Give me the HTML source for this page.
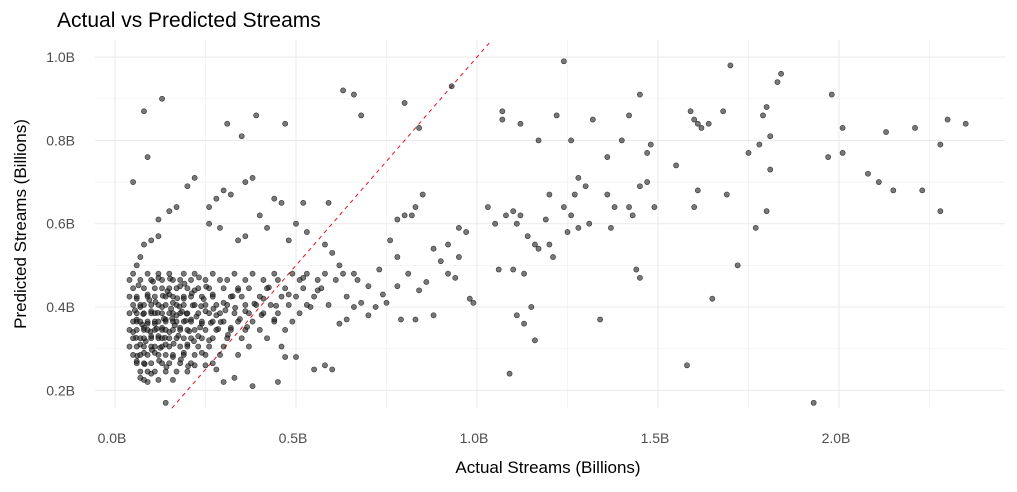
<!DOCTYPE html>
<html><head><meta charset="utf-8"><style>
body{margin:0;background:#fff;font-family:"Liberation Sans",sans-serif}
svg text{font-family:"Liberation Sans",sans-serif}
</style></head><body>
<svg id="chart" width="1017" height="487" xmlns="http://www.w3.org/2000/svg">
<text x="57" y="27" font-size="21" fill="#000">Actual vs Predicted Streams</text>
<text x="548" y="473" font-size="17" text-anchor="middle" fill="#000">Actual Streams (Billions)</text>
<text transform="translate(26,224) rotate(-90)" font-size="17" text-anchor="middle" fill="#000">Predicted Streams (Billions)</text>
<g id="grid"></g><g id="ticks"></g><g id="line"></g><g id="pts"></g>
</svg>
<script>
const xTicks=[0,0.5,1.0,1.5,2.0];
const xTickLabels=["0.0B","0.5B","1.0B","1.5B","2.0B"];
const yTicks=[0.2,0.4,0.6,0.8,1.0];
const yTickLabels=["0.2B","0.4B","0.6B","0.8B","1.0B"];
const outliers=[[0.05,0.70],[0.08,0.87],[0.09,0.76],[0.13,0.90],[0.31,0.84],[0.35,0.81],[0.39,0.86],[0.47,0.84],[0.63,0.92],[0.66,0.91],[0.68,0.86],[0.80,0.89],[0.84,0.83],[0.93,0.93],[1.07,0.87],[1.07,0.85],[1.12,0.84],[1.17,0.80],[1.22,0.86],[1.24,0.99],[1.26,0.80],[1.32,0.85],[1.36,0.76],[1.40,0.80],[1.42,0.86],[1.45,0.91],[1.47,0.77],[1.48,0.79],[1.55,0.74],[1.59,0.87],[1.60,0.85],[1.61,0.84],[1.62,0.83],[1.64,0.84],[1.68,0.87],[1.70,0.98],[1.75,0.77],[1.78,0.79],[1.79,0.86],[1.80,0.88],[1.81,0.81],[1.83,0.94],[1.84,0.96],[1.97,0.76],[1.98,0.91],[2.01,0.83],[2.01,0.77],[2.13,0.82],[2.21,0.83],[2.28,0.79],[2.30,0.85],[2.35,0.84]];
const midRight=[[1.20,0.67],[1.24,0.64],[1.26,0.62],[1.27,0.67],[1.28,0.71],[1.30,0.69],[1.31,0.60],[1.38,0.64],[1.36,0.67],[1.42,0.64],[1.43,0.62],[1.45,0.69],[1.47,0.70],[1.49,0.64],[1.37,0.59],[1.28,0.59],[1.25,0.58],[1.19,0.61],[1.20,0.55],[1.16,0.55],[1.17,0.54],[1.14,0.57],[1.12,0.62],[1.10,0.63],[1.11,0.60],[1.08,0.62],[1.05,0.60],[1.03,0.64],[1.21,0.52],[1.10,0.49],[1.13,0.48],[1.06,0.49],[1.15,0.40],[1.11,0.38],[1.13,0.36],[1.16,0.32],[1.09,0.24],[1.34,0.37],[1.44,0.49],[1.45,0.47],[1.58,0.26],[1.60,0.64],[1.61,0.68],[1.65,0.42],[1.69,0.67],[1.72,0.50],[1.77,0.59],[1.80,0.63],[1.81,0.73],[1.93,0.17],[2.08,0.72],[2.11,0.70],[2.15,0.68],[2.23,0.68],[2.28,0.63]];
const midLeft=[[0.85,0.67],[0.83,0.64],[0.82,0.62],[0.80,0.62],[0.78,0.61],[0.76,0.56],[0.78,0.52],[0.88,0.54],[0.92,0.55],[0.95,0.59],[0.97,0.58],[0.90,0.51],[0.86,0.46],[0.94,0.47],[0.98,0.42],[0.99,0.41],[0.88,0.38],[0.83,0.37],[0.79,0.37],[0.72,0.40],[0.70,0.45],[0.66,0.48],[0.62,0.50],[0.60,0.53],[0.58,0.55],[0.53,0.58],[0.59,0.65],[0.52,0.65],[0.46,0.65],[0.44,0.66],[0.50,0.60],[0.56,0.44],[0.54,0.40],[0.62,0.36],[0.64,0.37],[0.66,0.40],[0.68,0.41],[0.70,0.38],[0.74,0.43],[0.73,0.49],[0.75,0.41],[0.78,0.45],[0.81,0.48],[0.84,0.44],[0.92,0.48],[0.95,0.52],[0.60,0.25],[0.58,0.26],[0.55,0.25],[0.50,0.28],[0.47,0.28],[0.45,0.22],[0.38,0.21],[0.33,0.23],[0.30,0.22],[0.28,0.25],[0.25,0.26],[0.22,0.26],[0.14,0.17],[0.42,0.59],[0.40,0.62],[0.36,0.70],[0.38,0.71],[0.32,0.67],[0.30,0.68],[0.28,0.66],[0.26,0.64],[0.22,0.71],[0.20,0.69],[0.17,0.64],[0.15,0.63],[0.12,0.61],[0.12,0.57],[0.10,0.56],[0.08,0.55],[0.06,0.50],[0.07,0.52],[0.26,0.60],[0.29,0.59],[0.34,0.56],[0.36,0.57],[0.48,0.56]];
const clusterY=[0.48,0.465,0.445,0.425,0.405,0.385,0.365,0.345,0.325,0.305,0.285,0.265,0.245,0.225];
const clusterX=[
[0.05,0.09,0.12,0.15,0.19,0.22,0.27,0.33,0.38,0.44,0.49,0.53,0.58,0.63],
[0.04,0.07,0.10,0.13,0.16,0.18,0.21,0.25,0.29,0.31,0.36,0.41,0.45,0.51,0.56,0.61,0.67],
[0.05,0.08,0.11,0.13,0.15,0.17,0.20,0.23,0.26,0.30,0.34,0.37,0.42,0.47,0.52,0.57],
[0.04,0.06,0.09,0.11,0.14,0.16,0.19,0.21,0.24,0.27,0.32,0.35,0.40,0.46,0.50,0.55,0.64],
[0.05,0.07,0.08,0.10,0.12,0.14,0.17,0.19,0.22,0.25,0.28,0.31,0.36,0.39,0.43,0.48,0.53,0.59],
[0.04,0.06,0.08,0.10,0.11,0.13,0.15,0.16,0.18,0.20,0.23,0.26,0.29,0.33,0.37,0.41,0.45,0.51],
[0.05,0.06,0.07,0.09,0.11,0.12,0.14,0.16,0.17,0.19,0.21,0.24,0.27,0.30,0.34,0.38,0.44,0.49],
[0.04,0.06,0.08,0.09,0.11,0.13,0.14,0.16,0.18,0.20,0.22,0.25,0.28,0.32,0.36,0.40,0.47],
[0.05,0.07,0.08,0.10,0.12,0.13,0.15,0.17,0.19,0.21,0.24,0.27,0.31,0.35,0.42],
[0.04,0.06,0.08,0.10,0.11,0.13,0.15,0.18,0.20,0.23,0.26,0.30,0.37,0.46],
[0.05,0.07,0.09,0.12,0.14,0.16,0.19,0.22,0.25,0.29,0.34],
[0.06,0.08,0.10,0.13,0.15,0.18,0.21,0.27],
[0.07,0.09,0.11,0.14,0.17,0.20],
[0.08,0.12,0.16]];
const clusterExtra=[[0.06,0.37],[0.08,0.35],[0.10,0.39],[0.12,0.33],[0.14,0.37],[0.16,0.41],[0.18,0.35],[0.07,0.31],[0.09,0.43],[0.11,0.36],[0.13,0.40],[0.15,0.34],[0.17,0.38],[0.19,0.42],[0.21,0.37],[0.23,0.33],[0.25,0.39],[0.27,0.43],[0.06,0.42],[0.08,0.29],[0.10,0.33],[0.12,0.47],[0.14,0.31],[0.16,0.28],[0.20,0.31],[0.22,0.44],[0.24,0.36],[0.26,0.32],[0.28,0.38],[0.30,0.41],[0.32,0.35],[0.34,0.44],[0.11,0.29],[0.09,0.36],[0.07,0.40],[0.13,0.35],[0.15,0.43],[0.18,0.45],[0.05,0.34],[0.10,0.24],[0.06,0.27],[0.19,0.29],[0.24,0.29],[0.36,0.39],[0.41,0.42],[0.44,0.37],[0.48,0.43],[0.52,0.47],[0.07,0.23],[0.09,0.22]];
const clusterExtra2=[[0.055,0.392],[0.075,0.358],[0.095,0.417],[0.115,0.348],[0.135,0.372],[0.155,0.396],[0.175,0.331],[0.195,0.367],[0.215,0.404],[0.235,0.351],[0.065,0.452],[0.085,0.318],[0.105,0.461],[0.125,0.302],[0.145,0.438],[0.165,0.356],[0.185,0.389],[0.205,0.342],[0.225,0.377],[0.245,0.419],[0.265,0.362],[0.285,0.347],[0.305,0.392],[0.325,0.426],[0.345,0.371],[0.365,0.352],[0.385,0.408],[0.405,0.381],[0.425,0.447],[0.445,0.403],[0.062,0.283],[0.082,0.263],[0.102,0.297],[0.122,0.271],[0.142,0.256],[0.162,0.312],[0.182,0.274],[0.202,0.258],[0.112,0.412],[0.132,0.427],[0.152,0.468],[0.172,0.421],[0.192,0.456],[0.212,0.433],[0.232,0.471],[0.252,0.449],[0.272,0.396],[0.292,0.364],[0.312,0.333],[0.332,0.398],[0.058,0.326],[0.078,0.383],[0.098,0.341],[0.118,0.386],[0.138,0.326],[0.158,0.372],[0.178,0.401],[0.198,0.384],[0.218,0.318],[0.238,0.402]];
const NS="http://www.w3.org/2000/svg";
const L=95,R=1005,T=40,B=408;
const X=v=>115+v*362, Y=v=>307-(v-0.4)*416.5;
function mk(t,a,p){const e=document.createElementNS(NS,t);for(const k in a)e.setAttribute(k,a[k]);p.appendChild(e);return e;}
const grid=document.getElementById('grid'),tk=document.getElementById('ticks');
[0.25,0.75,1.25,1.75,2.25].forEach(v=>{const e=mk('line',{x1:X(v),x2:X(v),y1:T,y2:B,stroke:'#f2f2f2','stroke-width':0.8},grid);

});
[0.3,0.5,0.7,0.9].forEach(v=>{const e=mk('line',{x1:L,x2:R,y1:Y(v),y2:Y(v),stroke:'#f2f2f2','stroke-width':0.8},grid);

});
xTicks.forEach((v,i)=>{const e=mk('line',{x1:X(v),x2:X(v),y1:T,y2:B,stroke:'#ebebeb','stroke-width':1.1},grid);


const t=mk('text',{x:X(v)-3,y:443,'font-size':14,fill:'#4d4d4d','text-anchor':'middle'},tk);t.textContent=xTickLabels[i];

});
yTicks.forEach((v,i)=>{const e=mk('line',{x1:L,x2:R,y1:Y(v),y2:Y(v),stroke:'#ebebeb','stroke-width':1.1},grid);


const t=mk('text',{x:75,y:Y(v)+5,'font-size':14,fill:'#4d4d4d','text-anchor':'end'},tk);t.textContent=yTickLabels[i];

});
const lo=0.157,hi=1.041;
const ln=mk('line',{x1:X(lo),y1:Y(lo),x2:X(hi),y2:Y(hi),stroke:'#e8101a','stroke-width':1,'stroke-dasharray':'4,4'},document.getElementById('line'));


const pts=[].concat(outliers,midRight,midLeft,clusterExtra,clusterExtra2);
clusterX.forEach((row,i)=>row.forEach(x=>pts.push([x,clusterY[i]])));
const pg=document.getElementById('pts');
pts.forEach(p=>{const c=mk('circle',{cx:X(p[0]),cy:Y(p[1]),r:2.6,fill:'rgba(30,30,30,0.6)',stroke:'rgba(0,0,0,0.7)','stroke-width':0.6},pg);

});
</script>
</body></html>
